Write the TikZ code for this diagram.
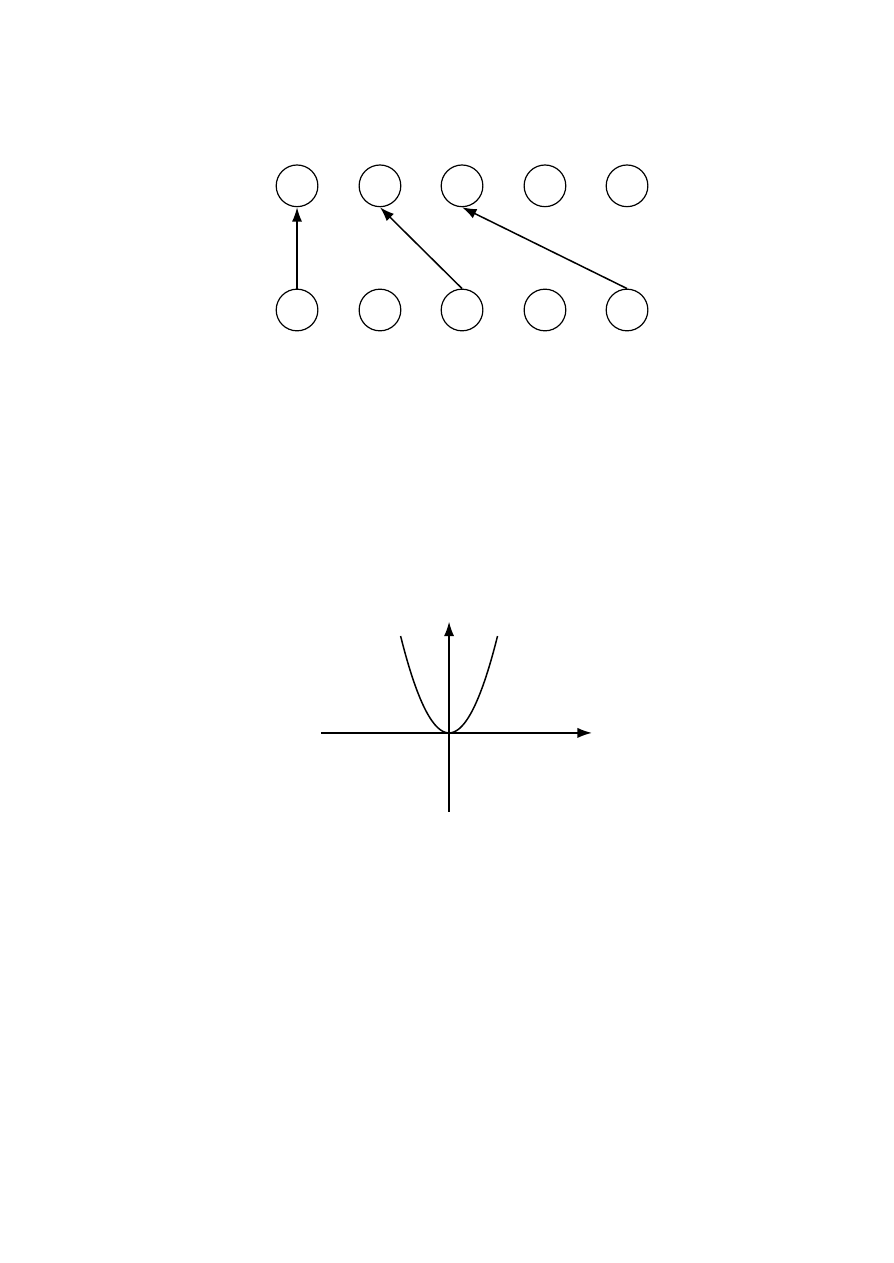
\documentclass[tikz,border=0pt]{standalone}
\usepackage{tikz}
\usetikzlibrary{arrows.meta}
\tikzset{>={Latex[length=3.4mm,width=2.4mm]}}
\tikzset{ring/.style={circle,draw,inner sep=0pt,minimum size=0.98cm,line width=0.8pt}}

\begin{document}
\begin{tikzpicture}
                    \useasboundingbox (0,0) rectangle (21,29.7);

                    \node[ring] (t1) at (6.985,25.33) {};
                    \node[ring] (t2) at (8.935,25.33) {};
                    \node[ring] (t3) at (10.865,25.33) {};
                    \node[ring] (t4) at (12.815,25.33) {};
                    \node[ring] (t5) at (14.745,25.33) {};
                    \node[ring] (b1) at (6.985,22.41) {};
                    \node[ring] (b2) at (8.935,22.41) {};
                    \node[ring] (b3) at (10.865,22.41) {};
                    \node[ring] (b4) at (12.815,22.41) {};
                    \node[ring] (b5) at (14.745,22.41) {};

                    \draw[->, line width=1pt] (b1.north) -- (t1.south);
                    \draw[->, line width=1pt] (b3.north) -- (t2.south);
                    \draw[->, line width=1pt] (b5.north) -- (t3.south);

                    % graph
                    \coordinate (O) at (10.56,12.465);
                    \coordinate (xl) at (7.55,12.465);
                    \coordinate (xr) at (13.92,12.465);
                    \coordinate (yb) at (10.56,10.61);
                    \coordinate (yt) at (10.56,15.08);
                    \draw[->, line width=1pt] (xl) -- (xr);
                    \draw[->, line width=1pt] (yb) -- (yt);
                    \draw[line width=1pt, shift={(O)}] plot[domain=-1.14:1.14, samples=60, smooth] (\x,{1.754*\x*\x});
                \end{tikzpicture}
\end{document}
